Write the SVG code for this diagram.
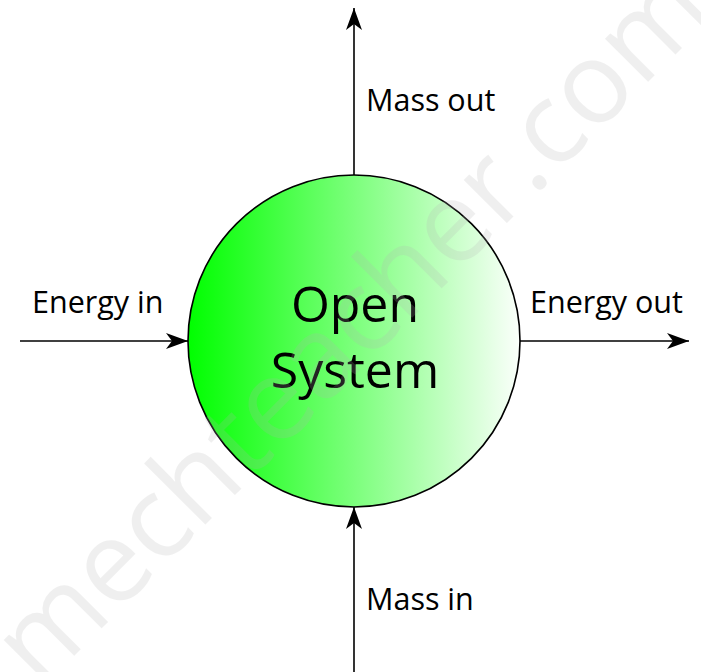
<svg xmlns="http://www.w3.org/2000/svg" width="701" height="672" viewBox="0 0 701 672">
<style>
.lbl{font-family:"Open Sans","Noto Sans",sans-serif;font-size:30.5px;fill:#000}
.big{font-family:"Open Sans","Noto Sans",sans-serif;font-size:50px;fill:#000}
.conn{stroke:#000;stroke-width:1.6;fill:none;marker-end:url(#ah)}
.wm{font-family:"Open Sans","Noto Sans",sans-serif;font-size:114px;fill:#b4b4b4;opacity:0.2}
</style>
<defs>
<marker id="ah" markerWidth="24" markerHeight="16" refX="22" refY="8" orient="auto" markerUnits="userSpaceOnUse">
<path d="M0,0 L22,8 L0,16 L6,8 Z" fill="#000"/>
</marker>
<linearGradient id="g" x1="0" y1="0" x2="1" y2="0">
<stop offset="0" stop-color="#00ff00"/>
<stop offset="0.5" stop-color="#7cff7c"/>
<stop offset="1" stop-color="#fbfffb"/>
</linearGradient>
</defs>
<rect width="701" height="672" fill="#fff"/>
<g id="system">
<circle cx="354" cy="341" r="166" fill="url(#g)" stroke="#000" stroke-width="1.6"/>
<text class="big" x="355" y="322" text-anchor="middle">Open</text>
<text class="big" x="355" y="388" text-anchor="middle">System</text>
</g>
<g id="connectors">
<line class="conn" x1="354" y1="175" x2="354" y2="8"/>
<line class="conn" x1="354" y1="672" x2="354" y2="507"/>
<line class="conn" x1="20" y1="341" x2="188" y2="341"/>
<line class="conn" x1="520" y1="341" x2="689" y2="341"/>
</g>
<g id="labels">
<text class="lbl" x="366" y="111">Mass out</text>
<text class="lbl" x="366" y="610">Mass in</text>
<text class="lbl" x="32" y="313">Energy in</text>
<text class="lbl" x="530" y="313">Energy out</text>
</g>
<text class="wm" x="0" y="0" transform="translate(40,690) rotate(-45)">mechteacher.com</text>
</svg>
